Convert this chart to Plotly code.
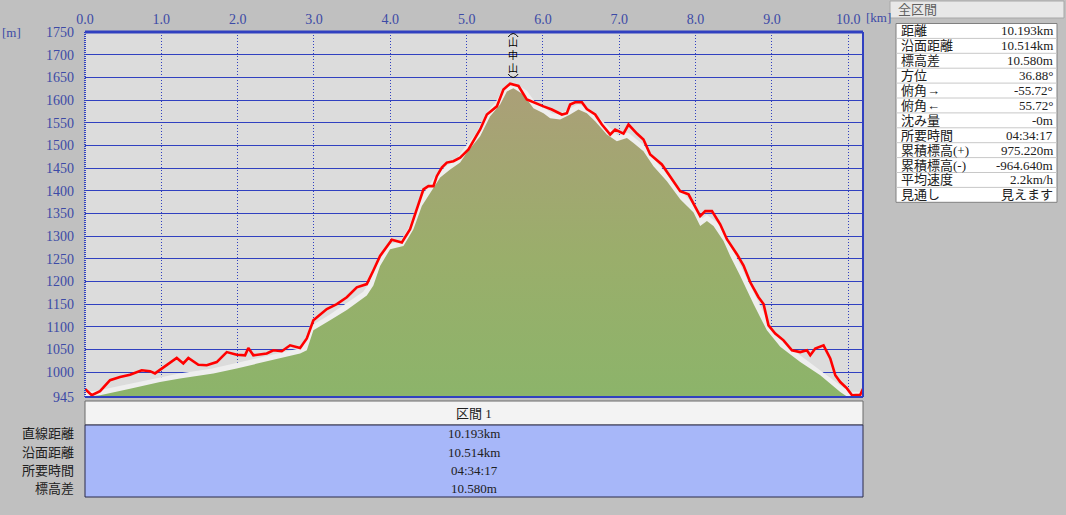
import plotly.graph_objects as go

# ---------------- data ----------------
total_km = 10.193

track_km = [0.000, 0.088, 0.197, 0.328, 0.459, 0.590, 0.743, 0.852, 0.917, 1.071,
            1.202, 1.288, 1.354, 1.485, 1.595, 1.726, 1.857, 1.988, 2.097, 2.140,
            2.206, 2.381, 2.468, 2.578, 2.687, 2.818, 2.906, 2.992, 3.168, 3.299,
            3.430, 3.561, 3.692, 3.778, 3.866, 4.020, 4.151, 4.259, 4.347, 4.434,
            4.499, 4.565, 4.609, 4.675, 4.740, 4.827, 4.915, 4.980, 5.024, 5.177,
            5.265, 5.396, 5.482, 5.570, 5.613, 5.679, 5.789, 5.898, 6.007, 6.116,
            6.248, 6.313, 6.356, 6.422, 6.510, 6.575, 6.684, 6.772, 6.881, 6.946,
            7.055, 7.121, 7.231, 7.317, 7.405, 7.558, 7.667, 7.798, 7.907, 7.995,
            8.060, 8.126, 8.214, 8.322, 8.410, 8.541, 8.628, 8.716, 8.824, 8.890,
            8.955, 9.043, 9.152, 9.262, 9.371, 9.458, 9.502, 9.567, 9.676, 9.764,
            9.830, 9.895, 9.983, 10.049, 10.157, 10.193]
track_elev = [963, 949, 958, 982, 989, 994, 1004, 1002, 997, 1015,
              1031, 1019, 1031, 1016, 1015, 1022, 1044, 1038, 1037, 1053,
              1037, 1041, 1048, 1046, 1059, 1053, 1074, 1114, 1139, 1150,
              1165, 1187, 1194, 1224, 1256, 1292, 1286, 1315, 1359, 1403,
              1410, 1410, 1432, 1451, 1462, 1465, 1473, 1484, 1491, 1535,
              1568, 1586, 1623, 1636, 1634, 1631, 1601, 1593, 1586, 1579,
              1568, 1571, 1590, 1595, 1595, 1580, 1568, 1546, 1524, 1535,
              1526, 1546, 1526, 1513, 1480, 1458, 1432, 1399, 1392, 1366,
              1344, 1355, 1355, 1326, 1293, 1260, 1235, 1198, 1165, 1150,
              1103, 1085, 1070, 1048, 1044, 1048, 1037, 1052, 1059, 1030,
              993, 978, 964, 949, 950, 963]

terrain_km = [0.000, 0.197, 0.590, 0.983, 1.245, 1.682, 1.988, 2.337, 2.818, 2.906,
              2.992, 3.211, 3.430, 3.692, 3.778, 3.866, 3.997, 4.172, 4.303, 4.413,
              4.522, 4.653, 4.784, 4.915, 5.003, 5.177, 5.308, 5.439, 5.527, 5.613,
              5.744, 5.875, 6.007, 6.094, 6.225, 6.356, 6.465, 6.575, 6.684, 6.837,
              6.968, 7.100, 7.186, 7.317, 7.448, 7.624, 7.798, 7.973, 8.060, 8.148,
              8.234, 8.366, 8.453, 8.585, 8.759, 8.934, 9.109, 9.371, 9.633, 9.895,
              9.983, 10.193]
terrain_elev = [945, 949, 963, 978, 986, 997, 1008, 1022, 1041, 1048,
                1092, 1114, 1137, 1169, 1191, 1234, 1271, 1278, 1315, 1366,
                1396, 1429, 1447, 1462, 1484, 1520, 1564, 1590, 1619, 1626,
                1612, 1582, 1571, 1560, 1557, 1568, 1579, 1571, 1553, 1524,
                1509, 1516, 1505, 1487, 1454, 1421, 1381, 1352, 1322, 1333,
                1322, 1289, 1256, 1212, 1150, 1092, 1056, 1022, 993, 956,
                946, 945]

y_ticks = [945, 1000, 1050, 1100, 1150, 1200, 1250, 1300, 1350, 1400, 1450,
           1500, 1550, 1600, 1650, 1700, 1750]
x_ticks = [0, 1, 2, 3, 4, 5, 6, 7, 8, 9, 10]
x_tick_labels = ["0.0", "1.0", "2.0", "3.0", "4.0", "5.0", "6.0", "7.0",
                 "8.0", "9.0", "10.0"]

peak_km = 5.61
peak_name = "山中山"

summary_title = "全区間"
summary_labels = ["距離", "沿面距離", "標高差", "方位", "俯角→", "俯角←", "沈み量",
                  "所要時間", "累積標高(+)", "累積標高(-)", "平均速度", "見通し"]
summary_values = ["10.193km", "10.514km", "10.580m", "36.88°", "-55.72°", "55.72°",
                  "-0m", "04:34:17", "975.220m", "-964.640m", "2.2km/h", "見えます"]

section_name = "区間 1"
section_labels = ["直線距離", "沿面距離", "所要時間", "標高差"]
section_values = ["10.193km", "10.514km", "04:34:17", "10.580m"]

# ---------------- layout helpers ----------------
W, H = 1066, 515
L, R, T, B = 85, 863, 32, 397
KM_PX = (R - L) / total_km


def xp(px):
    return (px - L) / (R - L)


def yp(py):
    return (B - py) / (B - T)


FONT = "Liberation Serif, Noto Sans CJK JP"
BLUE_TXT = "#3c4aa6"
GRID = "#3040c0"


def text(px, py, s, anchor="center", size=13, color="#202020", family=FONT, xref="paper",
         x=None):
    return dict(x=xp(px) if x is None else x, y=yp(py), xref=xref, yref="paper", text=s,
                xanchor=anchor, yanchor="middle", showarrow=False,
                font=dict(family=family, size=size, color=color))


fig = go.Figure()

# halo around terrain
fig.add_trace(go.Scatter(x=terrain_km, y=terrain_elev, mode="lines",
                         line=dict(color="#eeeeee", width=10),
                         hoverinfo="skip", showlegend=False))
# terrain fill
fig.add_trace(go.Scatter(x=terrain_km, y=terrain_elev, mode="lines", fill="tozeroy",
                         line=dict(width=0, color="rgba(0,0,0,0)"),
                         fillgradient=dict(type="vertical", start=945, stop=1630,
                                           colorscale=[[0, "#8cb46a"], [0.45, "#9aae6b"],
                                                       [1, "#ab9f78"]]),
                         hoverinfo="skip", showlegend=False))
# track
fig.add_trace(go.Scatter(x=track_km, y=track_elev, mode="lines",
                         line=dict(color="#ff0000", width=2.6),
                         showlegend=False))

shapes = []
ann = []

# plot frame
shapes.append(dict(type="line", xref="paper", yref="paper", x0=0, x1=1, y0=1, y1=1,
                   line=dict(color=GRID, width=3)))
shapes.append(dict(type="line", xref="paper", yref="paper", x0=1, x1=1, y0=0, y1=1,
                   line=dict(color=GRID, width=2)))
shapes.append(dict(type="line", xref="paper", yref="paper", x0=0, x1=1, y0=0, y1=0,
                   line=dict(color=GRID, width=2)))
shapes.append(dict(type="line", xref="paper", yref="paper", x0=0, x1=0, y0=0, y1=1,
                   line=dict(color=GRID, width=2, dash="1px,1px")))

# peak label (vertical text with curved brackets)
ann.append(text(0, 55, "<br>".join(peak_name), xref="x", x=peak_km, size=10,
                color="#000000", family="Noto Sans CJK JP"))
dx = 5 / KM_PX
xa, xb = peak_km - dx, peak_km + dx
shapes.append(dict(type="path", xref="x", yref="paper",
                   path=f"M {xa},{yp(37)} Q {peak_km},{yp(30)} {xb},{yp(37)}",
                   line=dict(color="#000000", width=1)))
shapes.append(dict(type="path", xref="x", yref="paper",
                   path=f"M {xa},{yp(74)} Q {peak_km},{yp(81)} {xb},{yp(74)}",
                   line=dict(color="#000000", width=1)))

# unit labels
ann.append(text(878, 17, "[km]", size=13, color=BLUE_TXT))
ann.append(text(11, 33, "[m]", size=13, color=BLUE_TXT))

# bottom section table
shapes.append(dict(type="rect", xref="paper", yref="paper", x0=0, x1=1,
                   y0=yp(425), y1=yp(401), fillcolor="#f3f3f3",
                   line=dict(color="#6a6a6a", width=1)))
shapes.append(dict(type="rect", xref="paper", yref="paper", x0=0, x1=1,
                   y0=yp(497), y1=yp(425), fillcolor="#a7b7f9",
                   line=dict(color="#2a2a4a", width=1)))
ann.append(text(474, 413, section_name))
for i, (lab, val) in enumerate(zip(section_labels, section_values)):
    ann.append(text(474, 434 + i * 18, val))
    ann.append(text(76, 434 + i * 18, lab, anchor="right"))

# right summary panel
shapes.append(dict(type="rect", xref="paper", yref="paper", x0=xp(890), x1=xp(1064),
                   y0=yp(18), y1=yp(1), fillcolor="#e8e8e8",
                   line=dict(color="#a8a8a8", width=1)))
ann.append(text(896, 9.5, summary_title, anchor="left", color="#606060"))
top, rh = 23.5, 14.9
shapes.append(dict(type="rect", xref="paper", yref="paper", x0=xp(896), x1=xp(1057),
                   y0=yp(top + 12 * rh), y1=yp(top), fillcolor="#ffffff",
                   line=dict(color="#808080", width=1)))
for k in range(1, 12):
    shapes.append(dict(type="line", xref="paper", yref="paper", x0=xp(896), x1=xp(1057),
                       y0=yp(top + k * rh), y1=yp(top + k * rh),
                       line=dict(color="#c8c8c8", width=1)))
for i, (lab, val) in enumerate(zip(summary_labels, summary_values)):
    cy = top + (i + 0.5) * rh
    ann.append(text(899, cy, lab, anchor="left"))
    ann.append(text(1055, cy, val, anchor="right"))

fig.update_layout(
    width=W, height=H, autosize=False,
    margin=dict(l=L, r=W - R, t=T, b=H - B, pad=0),
    paper_bgcolor="#c0c0c0", plot_bgcolor="#dcdcdc",
    showlegend=False,
    shapes=shapes, annotations=ann,
    xaxis=dict(range=[0, total_km], side="top", tickmode="array", tickvals=x_ticks,
               ticktext=x_tick_labels, showgrid=True, gridcolor=GRID, gridwidth=1,
               griddash="1px,2px", zeroline=False, showline=False, ticks="",
               ticklabelstandoff=4,
               tickfont=dict(family=FONT, size=14, color=BLUE_TXT), fixedrange=True),
    yaxis=dict(range=[945, 1750], tickmode="array", tickvals=y_ticks,
               showgrid=True, gridcolor=GRID, gridwidth=1, zeroline=False,
               showline=False, ticks="", ticklabelstandoff=10,
               tickfont=dict(family=FONT, size=14, color=BLUE_TXT), fixedrange=True),
)

fig.write_html("out.html", config={"displayModeBar": False},
               post_script="document.body.style.margin='0px';"
                           "document.body.style.background='#c0c0c0';")
